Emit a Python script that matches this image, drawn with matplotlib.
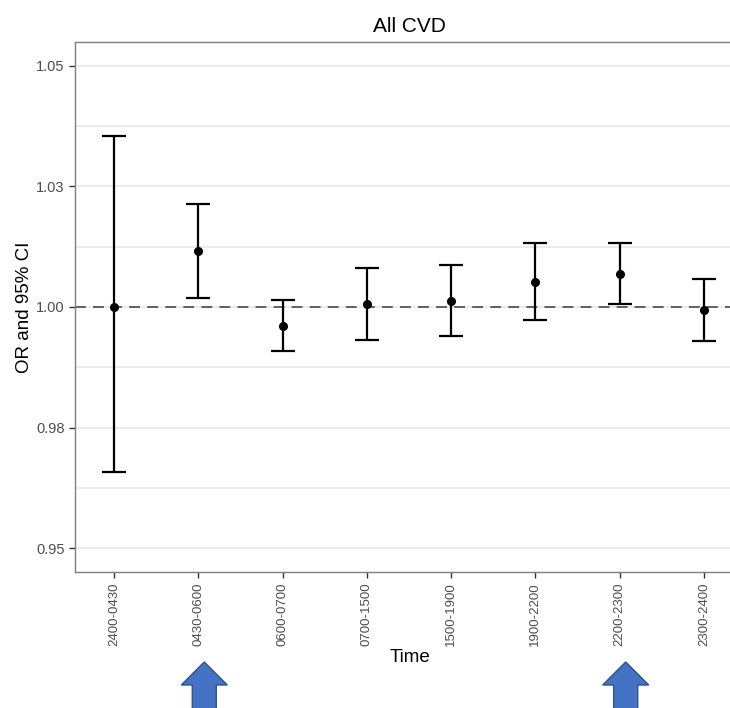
import numpy as np
from matplotlib import pyplot as plt
from matplotlib.patches import Polygon

plt.rcParams['font.family'] = ['Liberation Sans', 'DejaVu Sans']

# odds ratios and 95% confidence limits by time window
time_windows = ['2400-0430', '0430-0600', '0600-0700', '0700-1500',
                '1500-1900', '1900-2200', '2200-2300', '2300-2400']
odds_ratio = [1.0000, 1.0116, 0.9961, 1.0006, 1.0012, 1.0052, 1.0069, 0.9993]
ci_lower = [0.9658, 1.0019, 0.9909, 0.9931, 0.9939, 0.9973, 1.0006, 0.9930]
ci_upper = [1.0355, 1.0214, 1.0014, 1.0081, 1.0086, 1.0132, 1.0132, 1.0057]

y_ticks = [0.95, 0.975, 1.00, 1.025, 1.05]
y_tick_labels = ['0.95', '0.98', '1.00', '1.03', '1.05']
y_minor = [0.9625, 0.9875, 1.0125, 1.0375]

# windows flagged with an arrow under the axis
flagged = ['0430-0600', '2200-2300']

W, H, DPI = 730, 708, 100
fig = plt.figure(figsize=(W / DPI, H / DPI), dpi=DPI)
# panel runs off the right edge of the canvas
ax = fig.add_axes([75 / W, 136 / H, 668 / W, 530 / H])

x = np.arange(len(time_windows))
yerr = [np.array(odds_ratio) - np.array(ci_lower),
        np.array(ci_upper) - np.array(odds_ratio)]

ax.set_ylim(0.9451, 1.0549)
ax.set_xlim(-0.4626, len(time_windows) - 1 + 0.4626)

ax.set_yticks(y_ticks)
ax.set_yticklabels(y_tick_labels)
ax.set_yticks(y_minor, minor=True)
ax.tick_params(axis='y', which='minor', length=0)
ax.grid(axis='y', which='both', color='#EBEBEB', linewidth=1.4, zorder=0)
ax.set_axisbelow(True)

ax.axhline(1.0, color='#555555', linestyle=(0, (6, 4)), linewidth=1.3, zorder=1)

ax.errorbar(x, odds_ratio, yerr=yerr, fmt='o', color='black', ecolor='black',
            markersize=5.5, elinewidth=1.6, capsize=8.5, capthick=1.6, zorder=3)

ax.set_xticks(x)
ax.set_xticklabels(time_windows, rotation=90)
ax.tick_params(axis='both', which='major', length=4, width=1.0,
               color='#333333', labelcolor='#4D4D4D', labelsize=9.5)
ax.tick_params(axis='y', labelsize=10.5)

for side in ['left', 'bottom', 'top', 'right']:
    ax.spines[side].set_color('#7F7F7F')
    ax.spines[side].set_linewidth(1.0)

ax.set_title('All CVD', fontsize=15, pad=7)
ax.set_ylabel('OR and 95% CI', fontsize=13.5, labelpad=2)
fig.text(410 / W, 1 - 657 / H, 'Time', fontsize=13.5, ha='center', va='center')

# block arrows pointing up at the flagged windows
for name in flagged:
    px = ax.transData.transform((time_windows.index(name), 0))[0] + 6
    tip, base, bottom = H - 662, H - 685, -10
    pts = [(px, tip), (px + 23, base), (px + 12, base), (px + 12, bottom),
           (px - 12, bottom), (px - 12, base), (px - 23, base)]
    fig.patches.append(Polygon(pts, closed=True, transform=None,
                               facecolor='#4472C4', edgecolor='#2F528F',
                               linewidth=1.0))

fig.savefig('out.png', dpi=DPI)
